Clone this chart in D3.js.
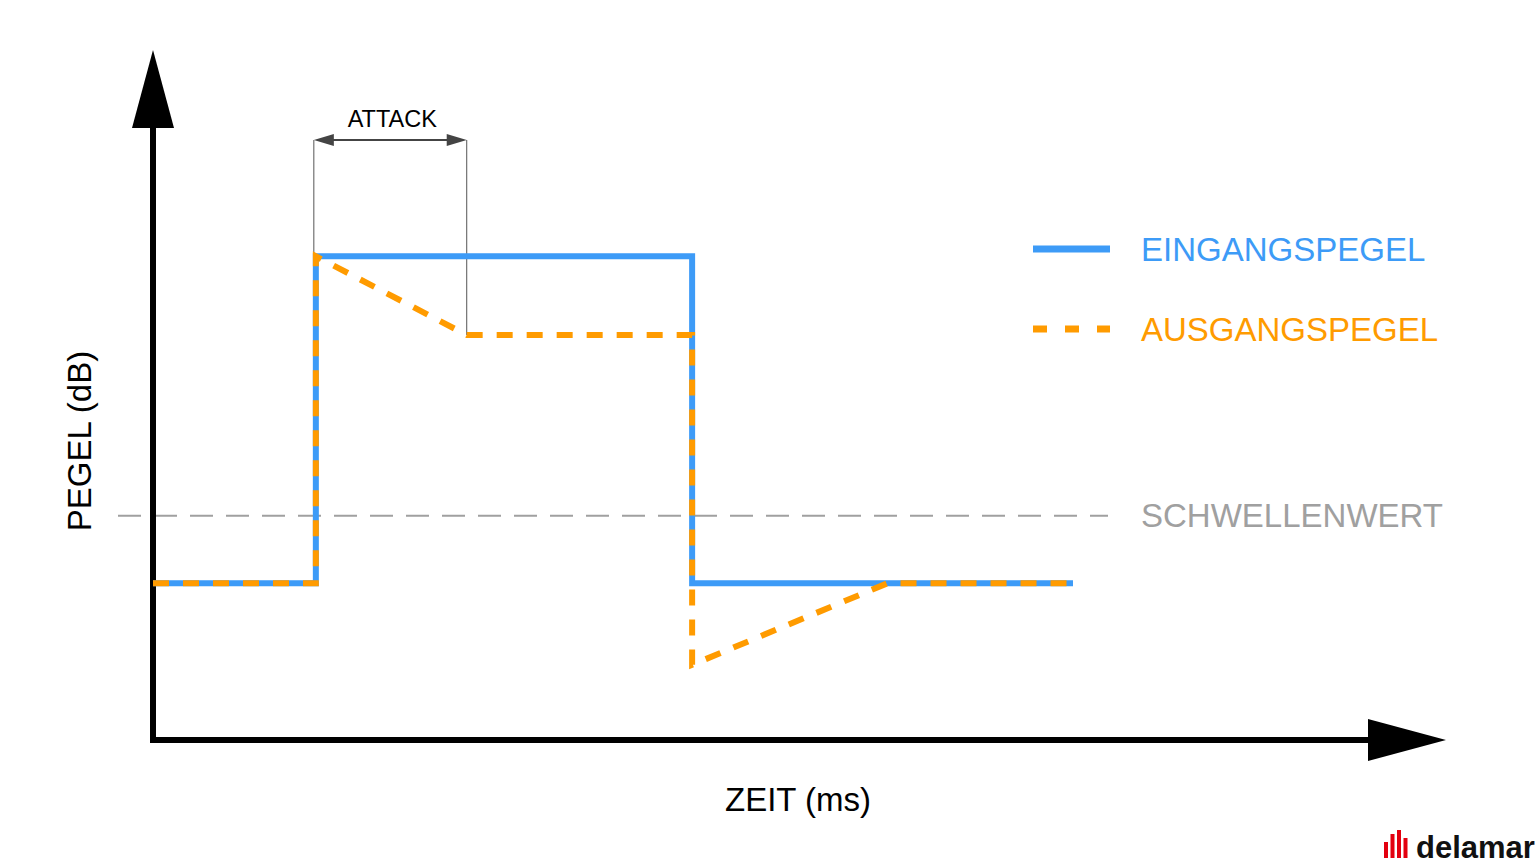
<!DOCTYPE html>
<html>
<head>
<meta charset="utf-8">
<script src="https://cdn.jsdelivr.net/npm/d3@7"></script>
<style>
  body { margin: 0; background: #fff; }
  svg { display: block; font-family: "Liberation Sans", Arial, sans-serif; }
</style>
</head>
<body>
<svg id="chart"></svg>
<script>
// time (ms, arbitrary units) and level (dB, arbitrary units)
const inputTimes  = [0, 17.7, 17.7, 58.6, 58.6, 100];
const inputLevels = [22.7, 22.7, 70.1, 70.1, 22.7, 22.7];
const outputTimes  = [0, 17.7, 17.7, 34.1, 58.6, 58.6, 79.8, 100];
const outputLevels = [22.7, 22.7, 70.1, 58.7, 58.7, 10.9, 22.7, 22.7];
const threshold = 32.5;
const attackSpan = [17.7, 34.1];
const legendLabels = ["EINGANGSPEGEL", "AUSGANGSPEGEL"];

const W = 1536, H = 864;
const svg = d3.select("#chart").attr("width", W).attr("height", H);

const x = d3.scaleLinear().domain([0, 100]).range([153, 1073]);
const y = d3.scaleLinear().domain([0, 100]).range([740, 50]);

const blue = "#3d9bf7", orange = "#ff9b00", gray = "#a0a0a0";

// threshold line
svg.append("line")
  .attr("x1", 118).attr("x2", 1108)
  .attr("y1", y(threshold)).attr("y2", y(threshold))
  .attr("stroke", gray).attr("stroke-width", 2)
  .attr("stroke-dasharray", "23,13");

svg.append("text")
  .attr("x", 1141).attr("y", y(threshold) + 11)
  .attr("fill", gray).attr("font-size", 33)
  .text("SCHWELLENWERT");

// axes with arrows
svg.append("line")
  .attr("x1", x(0)).attr("x2", x(0))
  .attr("y1", y(0) + 3).attr("y2", 120)
  .attr("stroke", "#000").attr("stroke-width", 6);
svg.append("path")
  .attr("d", `M${x(0) - 21},128 L${x(0)},50 L${x(0) + 21},128 Z`)
  .attr("fill", "#000");

svg.append("line")
  .attr("x1", x(0) - 3).attr("x2", 1375)
  .attr("y1", y(0)).attr("y2", y(0))
  .attr("stroke", "#000").attr("stroke-width", 6);
svg.append("path")
  .attr("d", `M1368,${y(0) - 21} L1446,${y(0)} L1368,${y(0) + 21} Z`)
  .attr("fill", "#000");

// axis titles
svg.append("text")
  .attr("transform", `translate(91,441) rotate(-90)`)
  .attr("text-anchor", "middle")
  .attr("font-size", 33).attr("fill", "#000")
  .text("PEGEL (dB)");

svg.append("text")
  .attr("x", 798).attr("y", 811)
  .attr("text-anchor", "middle")
  .attr("font-size", 33).attr("fill", "#000")
  .text("ZEIT (ms)");

// attack marker
const ax0 = x(attackSpan[0]) - 2, ax1 = x(attackSpan[1]);
svg.append("line")
  .attr("x1", ax0).attr("x2", ax0).attr("y1", 140).attr("y2", y(70.1))
  .attr("stroke", "#555").attr("stroke-width", 1);
svg.append("line")
  .attr("x1", ax1).attr("x2", ax1).attr("y1", 140).attr("y2", y(58.7))
  .attr("stroke", "#555").attr("stroke-width", 1);
svg.append("line")
  .attr("x1", ax0 + 10).attr("x2", ax1 - 10).attr("y1", 140).attr("y2", 140)
  .attr("stroke", "#444").attr("stroke-width", 2);
svg.append("path")
  .attr("d", `M${ax0},140 L${ax0 + 20},134 L${ax0 + 20},146 Z M${ax1},140 L${ax1 - 20},134 L${ax1 - 20},146 Z`)
  .attr("fill", "#444");
svg.append("text")
  .attr("x", (ax0 + ax1) / 2 + 2).attr("y", 127)
  .attr("text-anchor", "middle")
  .attr("font-size", 23.5).attr("fill", "#000")
  .text("ATTACK");

// series
const line = d3.line().x(d => x(d[0])).y(d => y(d[1]));
const inputData = inputTimes.map((t, i) => [t, inputLevels[i]]);
const outputData = outputTimes.map((t, i) => [t, outputLevels[i]]);

svg.append("path")
  .datum(inputData)
  .attr("d", line)
  .attr("fill", "none")
  .attr("stroke", blue).attr("stroke-width", 6)
  .attr("stroke-linejoin", "miter");

svg.append("path")
  .datum(outputData)
  .attr("d", line)
  .attr("fill", "none")
  .attr("stroke", orange).attr("stroke-width", 6)
  .attr("stroke-dasharray", "16,14")
  .attr("stroke-linejoin", "miter");

// legend
const legendColors = [blue, orange];
const lg = svg.selectAll(".legend")
  .data(legendLabels)
  .enter().append("g")
  .attr("transform", (d, i) => `translate(1033,${249 + i * 80})`);
lg.append("line")
  .attr("x1", 0).attr("x2", 77)
  .attr("stroke", (d, i) => legendColors[i])
  .attr("stroke-width", 7)
  .attr("stroke-dasharray", (d, i) => i === 1 ? "14,18" : null);
lg.append("text")
  .attr("x", 108).attr("y", 12)
  .attr("font-size", 33)
  .attr("fill", (d, i) => legendColors[i])
  .text(d => d);

// logo
const logo = svg.append("g").attr("transform", "translate(1384,858)");
const barH = [16, 24, 28, 20];
logo.selectAll("rect")
  .data(barH)
  .enter().append("rect")
  .attr("x", (d, i) => i * 6.5)
  .attr("y", d => -d)
  .attr("width", 4)
  .attr("height", d => d)
  .attr("fill", "#e3000f");
logo.append("text")
  .attr("x", 32).attr("y", 0)
  .attr("font-size", 31).attr("font-weight", "bold")
  .attr("fill", "#111")
  .text("delamar");
</script>
</body>
</html>
